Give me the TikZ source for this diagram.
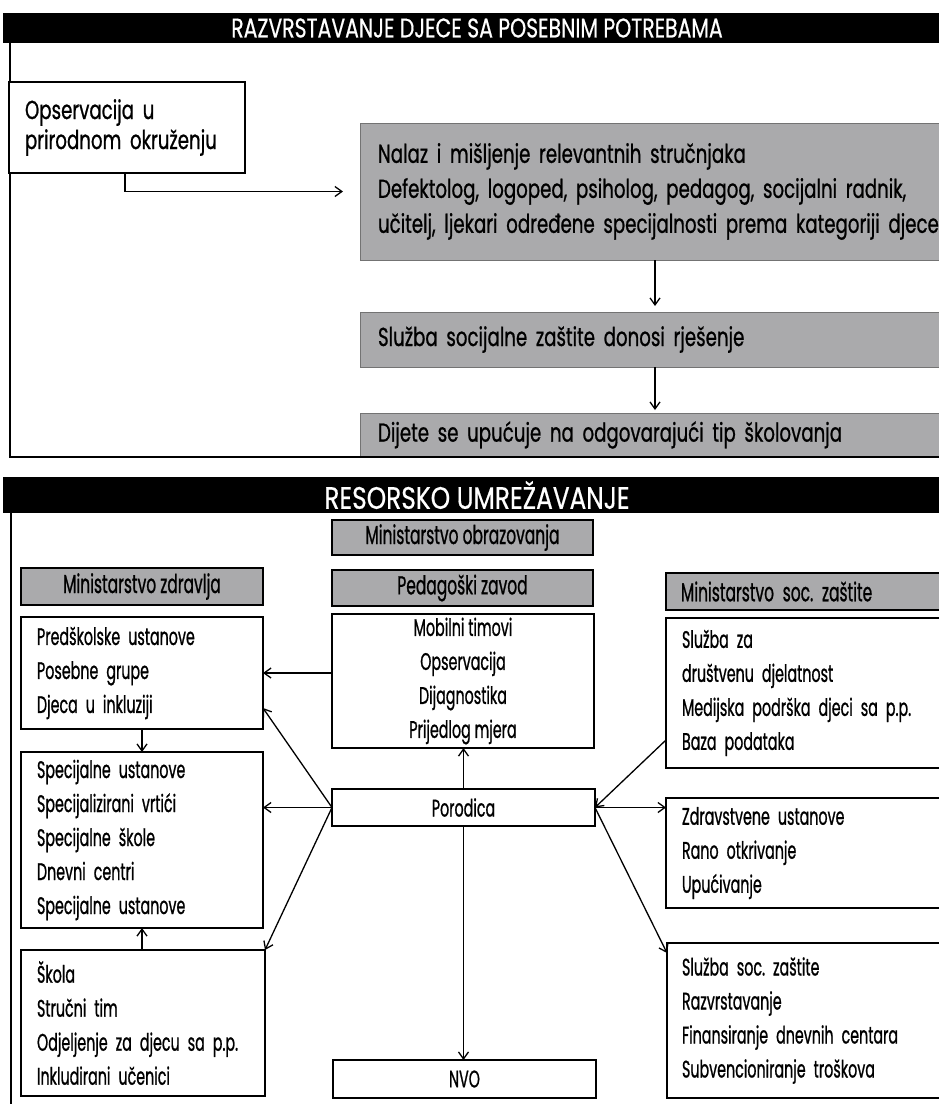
\documentclass[tikz,border=0pt]{standalone}
\usepackage{fontspec}
\setmainfont{Poppins}[FakeStretch=0.595, FakeBold=0.8]
\newfontfamily\topfont{Poppins}[FakeStretch=0.70, FakeBold=0.8]
\newfontfamily\titlefont{Poppins}[FakeStretch=0.755, FakeBold=0.5]
\newfontfamily\titlefontb{Poppins}[FakeStretch=0.80, FakeBold=0.5]
\usetikzlibrary{arrows.meta}
\definecolor{boxgray}{RGB}{170,170,172}
\begin{document}
\begin{tikzpicture}[x=1pt,y=-1pt,
  every node/.style={inner sep=0pt, outer sep=0pt},
  txt/.style={font=\fontsize{24}{34}\selectfont},
  labtxt/.style={font=\fontsize{26}{30}\selectfont},
  toptxt/.style={font=\topfont\fontsize{26}{35}\selectfont},
  titlebar/.style={fill=black, text=white, anchor=north west},
  whitebox/.style={txt, draw, line width=1.6pt, anchor=north west, align=left, inner xsep=16pt},
  cbox/.style={txt, draw, line width=1.6pt, anchor=north west, align=center},
  graytop/.style={toptxt, fill=boxgray, draw=black!55, line width=0.6pt, anchor=north west, align=left, inner xsep=18pt},
  graylab/.style={labtxt, fill=boxgray, draw, line width=1.8pt, anchor=north west, align=center},
  arr/.style={-{Straight Barb[length=7pt,width=10pt]}, line width=1.3pt},
  frame/.style={line width=2pt}
]
\useasboundingbox (0,0) rectangle (939,1104);

% ---------- top section ----------
\node[titlebar, minimum width=948, minimum height=30, font=\titlefont\fontsize{27}{30}\selectfont] (t1) at (3,13) {RAZVRSTAVANJE DJECE SA POSEBNIM POTREBAMA};
\draw[frame] (10,43) -- (10,457) -- (950,457);

\node[whitebox, fill=white, text width=204, minimum height=91, font=\topfont\fontsize{26}{30}\selectfont] (opserv) at (9,82)
  {Opservacija u\\prirodnom okruženju};

\node[graytop, text width=554, minimum height=137] (nalaz) at (360,123)
  {Nalaz i mišljenje relevantnih stručnjaka\\
   \mbox{Defektolog, logoped, psiholog, pedagog, socijalni radnik,}\\
   \mbox{učitelj, ljekari određene specijalnosti prema kategoriji djece}};
\node[graytop, text width=554, minimum height=55] (sluzba) at (360,312)
  {Služba socijalne zaštite donosi rješenje};
\node[graytop, text width=554, minimum height=44] (dijete) at (360,413)
  {\mbox{Dijete se upućuje na odgovarajući tip školovanja}};
\draw[frame] (10,457) -- (950,457);

\draw[arr] ([xshift=116pt]opserv.south west) |- ([xshift=-17pt]nalaz.west);
\draw[arr, shorten >=6pt] (nalaz.south) -- (sluzba.north);
\draw[arr, shorten >=3pt] (sluzba.south) -- (dijete.north);

% ---------- bottom section ----------
\node[titlebar, minimum width=948, minimum height=36, font=\titlefontb\fontsize{31}{33}\selectfont] (t2) at (3,477) {RESORSKO UMREŽAVANJE};
\draw[frame] (11,513) -- (11,1104);

\node[graylab, minimum width=261, minimum height=35] (minobr) at (332,520) {Ministarstvo obrazovanja};
\node[graylab, minimum width=242, minimum height=37] (minzdr) at (21,568) {Ministarstvo zdravlja};
\node[graylab, minimum width=261, minimum height=36] (pedz) at (332,570) {Pedagoški zavod};
\node[graylab, align=left, inner xsep=15pt, text width=255, minimum height=37] (minsoc) at (666,573) {Ministarstvo soc.\ zaštite};

\node[whitebox, text width=210, minimum height=112] (pred) at (21,617)
  {Predškolske ustanove\\Posebne grupe\\Djeca u inkluziji};
\node[cbox, minimum width=262, minimum height=134] (mob) at (332,614)
  {Mobilni timovi\\Opservacija\\Dijagnostika\\Prijedlog mjera};
\node[whitebox, inner xsep=16pt, text width=253, minimum height=150] (sluzbaza) at (666,618)
  {Služba za\\društvenu djelatnost\\\mbox{Medijska podrška djeci sa p.p.}\\Baza podataka};
\node[whitebox, text width=210, minimum height=176] (spec) at (21,752)
  {Specijalne ustanove\\Specijalizirani vrtići\\Specijalne škole\\Dnevni centri\\Specijalne ustanove};
\node[cbox, minimum width=263, minimum height=37] (por) at (332,789) {Porodica};
\node[whitebox, inner xsep=16pt, text width=253, minimum height=110] (zdrav) at (666,798)
  {Zdravstvene ustanove\\Rano otkrivanje\\Upućivanje};
\node[whitebox, text width=212, minimum height=146] (skola) at (21,950)
  {Škola\\Stručni tim\\\mbox{Odjeljenje za djecu sa p.p.}\\Inkludirani učenici};
\node[cbox, minimum width=263, minimum height=38] (nvo) at (333,1060) {NVO};
\node[whitebox, inner xsep=15pt, text width=255, minimum height=155] (socz) at (667,943)
  {Služba soc.\ zaštite\\Razvrstavanje\\\mbox{Finansiranje dnevnih centara}\\\mbox{Subvencioniranje troškova}};

\draw[arr] (mob.west |- pred.east) -- (pred.east);
\draw[arr] (por.west) -- ([yshift=21pt]pred.south east);
\draw[arr] (por.west) -- (por.west -| spec.east);
\draw[arr] (por.west) -- (skola.north east);
\draw[arr] (pred.south) -- (spec.north);
\draw[arr] (skola.north -| spec.south) -- (spec.south);
\draw[arr] (por.north) -- (por.north |- mob.south);
\draw[arr] (por.south) -- (por.south |- nvo.north);
\draw[arr] ([yshift=28pt]sluzbaza.south west) -- (por.east);
\draw[arr] (por.east) -- (por.east -| zdrav.west);
\draw[arr] (por.east) -- ([yshift=-10pt]socz.north west);
\end{tikzpicture}
\end{document}
